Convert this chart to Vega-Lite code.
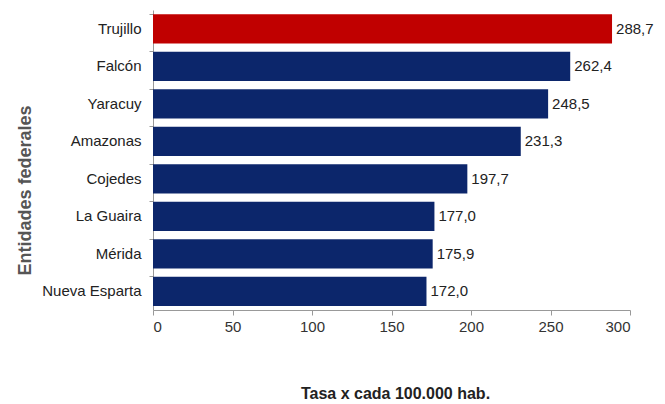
{
  "$schema": "https://vega.github.io/schema/vega-lite/v6.json",
  "autosize": "none",
  "width": 477,
  "height": 300,
  "padding": {"left": 153, "top": 10, "right": 35, "bottom": 94},
  "background": "white",
  "config": {
    "view": {"stroke": null},
    "font": "Liberation Sans, sans-serif"
  },
  "data": {
    "values": [
      {"entidad": "Trujillo", "tasa": 288.7, "label": "288,7", "grupo": "max"},
      {"entidad": "Falcón", "tasa": 262.4, "label": "262,4", "grupo": "otro"},
      {"entidad": "Yaracuy", "tasa": 248.5, "label": "248,5", "grupo": "otro"},
      {"entidad": "Amazonas", "tasa": 231.3, "label": "231,3", "grupo": "otro"},
      {"entidad": "Cojedes", "tasa": 197.7, "label": "197,7", "grupo": "otro"},
      {"entidad": "La Guaira", "tasa": 177.0, "label": "177,0", "grupo": "otro"},
      {"entidad": "Mérida", "tasa": 175.9, "label": "175,9", "grupo": "otro"},
      {"entidad": "Nueva Esparta", "tasa": 172.0, "label": "172,0", "grupo": "otro"}
    ]
  },
  "encoding": {
    "y": {
      "field": "entidad",
      "type": "nominal",
      "sort": null,
      "scale": {"paddingInner": 0.22, "paddingOuter": 0.11},
      "axis": {
        "title": "Entidades federales",
        "titleFontSize": 18,
        "titleFontWeight": "bold",
        "titleColor": "#555555",
        "titleX": -128,
        "titleY": 180,
        "titleAngle": -90,
        "titleAlign": "center",
        "titleBaseline": "middle",
        "labelFontSize": 15,
        "labelColor": "#222222",
        "labelPadding": 8,
        "domainColor": "#999999",
        "tickColor": "#999999",
        "tickSize": 4,
        "bandPosition": 0
      }
    },
    "x": {
      "field": "tasa",
      "type": "quantitative",
      "scale": {"domain": [0, 300], "nice": false},
      "axis": {
        "title": "Tasa x cada 100.000 hab.",
        "titleFontSize": 16,
        "titleFontWeight": "bold",
        "titleColor": "#222222",
        "titleX": 242,
        "titleY": 83,
        "titleAlign": "center",
        "titleBaseline": "middle",
        "values": [0, 50, 100, 150, 200, 250, 300],
        "labelFontSize": 15,
        "labelColor": "#333333",
        "labelPadding": 4,
        "grid": false,
        "domainColor": "#999999",
        "tickColor": "#999999",
        "tickSize": 5
      }
    }
  },
  "layer": [
    {
      "mark": {"type": "bar"},
      "encoding": {
        "color": {
          "field": "grupo",
          "type": "nominal",
          "scale": {"domain": ["max", "otro"], "range": ["#C00000", "#0C266B"]},
          "legend": null
        }
      }
    },
    {
      "mark": {"type": "text", "align": "left", "baseline": "middle", "dx": 4, "fontSize": 15, "color": "#222222"},
      "encoding": {"text": {"field": "label"}}
    }
  ]
}
